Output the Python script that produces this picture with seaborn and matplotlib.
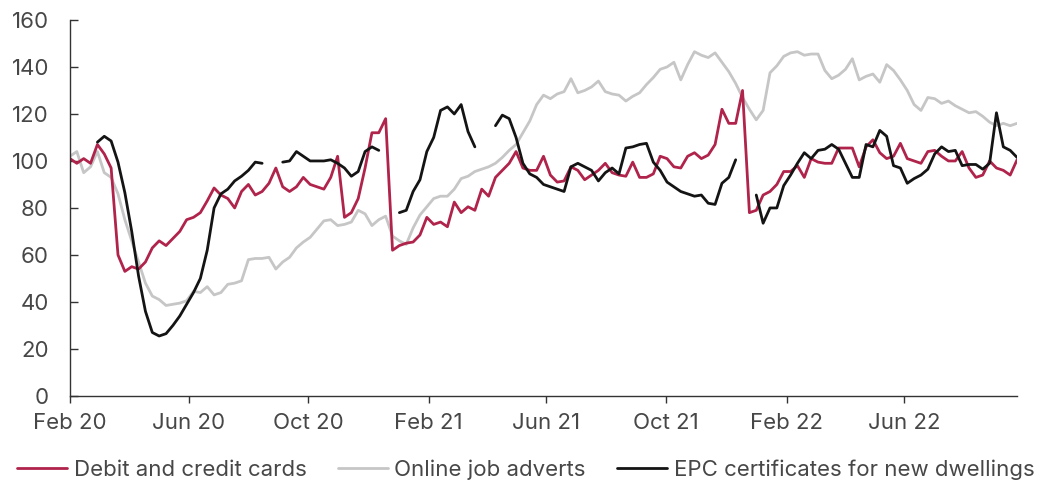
#!/usr/bin/env python3
"""Weekly indicators since Feb 2020: card spending, job adverts, EPC certificates."""

import matplotlib

matplotlib.use("Agg")
import matplotlib.dates as mdates
import matplotlib.pyplot as plt
import numpy as np
import pandas as pd
import seaborn as sns
from matplotlib.lines import Line2D

START_DATE = "2020-02-01"

debit_cards = [
    101, 99, 101, 99, 107, 103, 97, 60, 53, 55,
    54, 57, 63, 66, 64, 67, 70, 75, 76, 78,
    83, 88.5, 85.5, 84, 80, 87, 90, 85.5, 87, 90.5,
    97, 89, 87, 89, 93, 90, 89, 88, 93, 102,
    76, 78, 84, 97, 112, 112, 118, 62, 64, 65,
    65.5, 68.5, 76, 73, 74, 72, 82.5, 78, 80.5, 79,
    88, 85, 93, 96, 99, 104, 97, 96, 96, 102,
    94, 91, 91.5, 97.5, 96, 92, 94, 96, 99, 95,
    94, 93.5, 99.5, 93, 93, 94.5, 102, 101, 97.5, 97,
    102, 103.5, 101, 102.5, 107, 122, 116, 116, 130, 78,
    79, 85.5, 87, 90, 95.5, 95.5, 98, 93, 101, 99.5,
    99, 99, 105.5, 105.5, 105.5, 97.5, 106, 109, 103.5, 101,
    102, 107.5, 101, 100, 99, 104, 104.5, 102, 100, 100,
    104, 97, 93, 94, 100, 97, 96, 94, 100.5,
]

job_adverts = [
    102, 104, 95, 97.5, 104, 95, 93, 86, 75, 66,
    57, 48, 42.5, 41, 38.5, 39, 39.5, 40.5, 44.5, 44,
    46.5, 43, 44, 47.5, 48, 49, 58, 58.5, 58.5, 59,
    54, 57, 59, 63, 65.5, 67.5, 71, 74.5, 75, 72.5,
    73, 74, 79, 77.5, 72.5, 75, 76.5, 68, 66, 64.5,
    71.5, 77, 80.5, 84, 85, 85, 88, 92.5, 93.5, 95.5,
    96.5, 97.5, 99, 101.5, 104.5, 107, 112, 117, 124, 128,
    126.5, 128.5, 129.5, 135, 129, 130, 131.5, 134, 129.5, 128.5,
    128, 125.5, 127.5, 129, 132.5, 135.5, 139, 140, 142, 134.5,
    141, 146.5, 145, 144, 146, 142, 138, 133, 127, 122,
    117.5, 121.5, 137.5, 140.5, 144.5, 146, 146.5, 145, 145.5, 145.5,
    138.5, 135, 136.5, 139, 143.5, 134.5, 136, 137, 133.5, 141,
    138.5, 134.5, 130, 124, 121.5, 127, 126.5, 124.5, 125.5, 123.5,
    122, 120.5, 121, 119, 116.5, 115, 116, 115, 116,
]

epc_new_dwellings = [
    None, None, None, None, 108, 110.5, 108.5, 99.5, 86.5, 70,
    51, 36, 27, 25.5, 26.5, 30, 34, 39, 44, 50,
    62, 80, 86, 88, 91.5, 93.5, 96, 99.5, 99, None,
    None, 99.5, 100, 104, 102, 100, 100, 100, 100.5, 99,
    97, 93.5, 95.5, 104, 106, 104.5, None, None, 78, 79,
    87, 92, 104, 110, 121.5, 123, 120, 124, 112.5, 106,
    None, None, 115, 119.5, 118, 110, 99, 94.5, 93, 90,
    89, 88, 87, 97.5, 99, 97.5, 96, 91.5, 95, 97,
    94.5, 105.5, 106, 107, 107.5, 99.5, 96, 91, 89, 87,
    86, 85, 85.5, 82, 81.5, 90.5, 93, 100.5, None, None,
    85.5, 73.5, 80, 80, 89.5, 94, 99, 103.5, 101, 104.5,
    105, 107, 105, 99, 93, 93, 107, 106, 113, 110.5,
    98, 97, 90.5, 92.5, 94, 96.5, 103, 106, 104, 104.5,
    98, 98.5, 98.5, 96.5, 99, 120.5, 106, 104.5, 101.5,
]

series_labels = [
    "Debit and credit cards",
    "Online job adverts",
    "EPC certificates for new dwellings",
]

RED = "#B0234B"
GREY = "#C6C6C6"
BLACK = "#141414"
TEXT = "#474747"


def main() -> None:
    sns.set_theme(style="white")
    plt.rcParams["font.family"] = ["Inter", "DejaVu Sans"]

    dates = pd.date_range(START_DATE, periods=len(debit_cards), freq="7D")
    df = pd.DataFrame(
        {
            "date": dates,
            "debit": debit_cards,
            "jobs": job_adverts,
            "epc": np.array(epc_new_dwellings, dtype=float),
        }
    )
    # break the EPC line where the series has gaps
    df["epc_seg"] = df["epc"].isna().cumsum()
    epc_df = df.dropna(subset=["epc"])

    fig = plt.figure(figsize=(10.41, 4.87), dpi=100)
    ax = fig.add_axes([0.0672, 0.187, 0.9098, 0.772])

    sns.lineplot(data=df, x="date", y="jobs", color=GREY, lw=2, ax=ax)
    sns.lineplot(data=df, x="date", y="debit", color=RED, lw=2, ax=ax)
    sns.lineplot(
        data=epc_df, x="date", y="epc", units="epc_seg", estimator=None,
        color=BLACK, lw=2, ax=ax,
    )

    ax.set_xlim(dates[0], dates[-1])
    ax.set_ylim(0, 160)
    ax.set_yticks(range(0, 161, 20))
    ax.xaxis.set_major_locator(mdates.MonthLocator(bymonth=[2, 6, 10]))
    ax.xaxis.set_major_formatter(mdates.DateFormatter("%b %y"))
    ax.set_xlabel("")
    ax.set_ylabel("")

    for side in ["top", "right"]:
        ax.spines[side].set_visible(False)
    for side in ["left", "bottom"]:
        ax.spines[side].set_color("#333333")
        ax.spines[side].set_linewidth(1.0)

    ax.tick_params(axis="y", direction="in", length=6, width=1, color="#333333",
                   pad=15, labelsize=16, labelcolor=TEXT, left=True)
    ax.tick_params(axis="x", direction="out", length=5, width=1, color="#333333",
                   pad=7, labelsize=16, labelcolor=TEXT, bottom=True)

    handles = [
        Line2D([], [], color=RED, lw=2),
        Line2D([], [], color=GREY, lw=2),
        Line2D([], [], color=BLACK, lw=2),
    ]
    leg = fig.legend(
        handles, series_labels, loc="center", bbox_to_anchor=(0.505, 0.035),
        ncol=3, frameon=False, fontsize=16, handlelength=2.25,
        handletextpad=0.3, columnspacing=1.4,
    )
    for t in leg.get_texts():
        t.set_color(TEXT)

    fig.savefig("out.png", dpi=100)
    plt.close(fig)


if __name__ == "__main__":
    main()
